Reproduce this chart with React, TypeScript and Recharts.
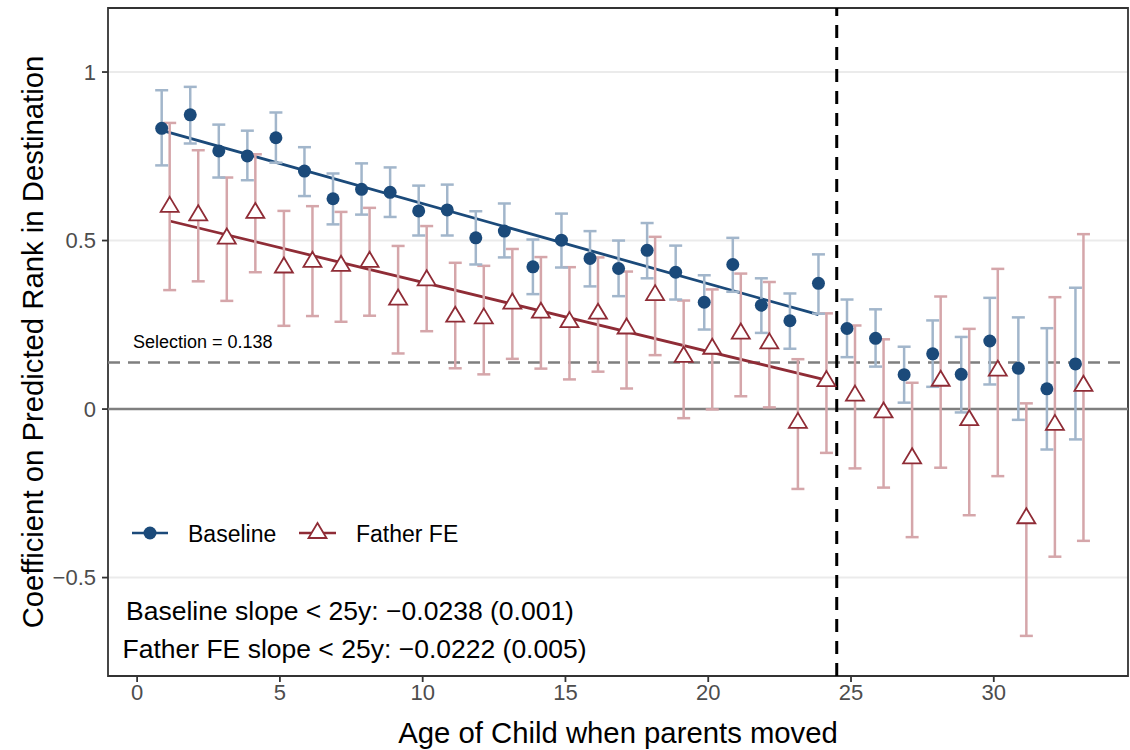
import {
  ComposedChart,
  Scatter,
  ErrorBar,
  XAxis,
  YAxis,
  CartesianGrid,
  ReferenceLine,
  ReferenceArea,
  Legend,
  Label,
} from 'recharts';

const AGES = [
  1, 2, 3, 4, 5, 6, 7, 8, 9, 10, 11, 12, 13, 14, 15, 16, 17,
  18, 19, 20, 21, 22, 23, 24, 25, 26, 27, 28, 29, 30, 31, 32, 33,
];

const BASE_EST = [
  0.833, 0.873, 0.766, 0.751, 0.805, 0.706, 0.624, 0.652, 0.643, 0.588, 0.591,
  0.508, 0.528, 0.422, 0.501, 0.447, 0.417, 0.471, 0.406, 0.317, 0.429, 0.308,
  0.262, 0.373, 0.239, 0.210, 0.102, 0.164, 0.103, 0.202, 0.121, 0.060, 0.134,
];
const BASE_LO = [
  0.723, 0.788, 0.687, 0.679, 0.731, 0.632, 0.548, 0.577, 0.570, 0.515, 0.515,
  0.429, 0.450, 0.341, 0.420, 0.364, 0.335, 0.388, 0.325, 0.236, 0.348, 0.226,
  0.179, 0.283, 0.154, 0.126, 0.019, 0.066, -0.010, 0.073, -0.032, -0.120, -0.090,
];
const BASE_HI = [
  0.946, 0.956, 0.844, 0.826, 0.880, 0.777, 0.699, 0.729, 0.717, 0.663, 0.666,
  0.587, 0.610, 0.503, 0.580, 0.528, 0.500, 0.552, 0.485, 0.397, 0.508, 0.388,
  0.343, 0.459, 0.325, 0.296, 0.185, 0.263, 0.214, 0.330, 0.272, 0.240, 0.360,
];

const FFE_EST = [
  0.600, 0.575, 0.506, 0.582, 0.420, 0.437, 0.425, 0.437, 0.325, 0.382, 0.274,
  0.269, 0.313, 0.286, 0.258, 0.283, 0.239, 0.338, 0.155, 0.179, 0.224, 0.195,
  -0.041, 0.083, 0.040, -0.010, -0.146, 0.084, -0.033, 0.114, -0.324, -0.047, 0.069,
];
const FFE_LO = [
  0.353, 0.379, 0.321, 0.406, 0.247, 0.276, 0.259, 0.277, 0.165, 0.231, 0.121,
  0.103, 0.149, 0.120, 0.088, 0.111, 0.061, 0.160, -0.027, -0.001, 0.038, 0.005,
  -0.237, -0.130, -0.176, -0.233, -0.380, -0.174, -0.315, -0.199, -0.673, -0.438, -0.391,
];
const FFE_HI = [
  0.849, 0.768, 0.687, 0.756, 0.588, 0.602, 0.585, 0.597, 0.484, 0.543, 0.434,
  0.425, 0.475, 0.451, 0.421, 0.450, 0.408, 0.511, 0.322, 0.355, 0.402, 0.377,
  0.148, 0.284, 0.248, 0.207, 0.078, 0.334, 0.238, 0.416, 0.017, 0.332, 0.519,
];

// linear fits for ages < 25
const BASE_FIT = [
  { x: 0.86, y: 0.827 },
  { x: 23.86, y: 0.28 },
];
const FFE_FIT = [
  { x: 1.14, y: 0.558 },
  { x: 24.14, y: 0.086 },
];

const SELECTION = 0.138;
const CUTOFF = 24.5;
const X_TICKS = [0, 5, 10, 15, 20, 25, 30];
const Y_TICKS = [-0.5, 0, 0.5, 1];
const DODGE = 0.14;

const BLUE = '#1b4a7a';
const BLUE_ERR = '#a2b6cb';
const RED = '#8f2c36';
const RED_ERR = '#d5a6aa';
const FONT = '"Liberation Sans", Arial, sans-serif';

const baseData = AGES.map((a, i) => ({
  x: a - DODGE,
  y: BASE_EST[i],
  err: [BASE_EST[i] - BASE_LO[i], BASE_HI[i] - BASE_EST[i]],
}));
const ffeData = AGES.map((a, i) => ({
  x: a + DODGE,
  y: FFE_EST[i],
  err: [FFE_EST[i] - FFE_LO[i], FFE_HI[i] - FFE_EST[i]],
}));

const fmtY = (v: number) => (v < 0 ? `\u2212${Math.abs(v)}` : `${v}`);

const Dot = (p: any) => <circle cx={p.cx} cy={p.cy} r={6.5} fill={BLUE} />;
const Tri = (p: any) => (
  <polygon
    points={`${p.cx},${p.cy - 10} ${p.cx + 9},${p.cy + 5} ${p.cx - 9},${p.cy + 5}`}
    fill="#fff"
    stroke={RED}
    strokeWidth={1.8}
  />
);

const LegendBox = () => (
  <svg width={360} height={40} style={{ display: 'block' }}>
    <line x1={7} y1={19} x2={43} y2={19} stroke={BLUE} strokeWidth={2.5} />
    <circle cx={25} cy={19} r={6.5} fill={BLUE} />
    <text x={63} y={27.5} fontSize={23} fontFamily={FONT} fill="#000">Baseline</text>
    <line x1={174} y1={19} x2={211} y2={19} stroke={RED} strokeWidth={2.5} />
    <polygon points="192.5,9 201.5,24 183.5,24" fill="#fff" stroke={RED} strokeWidth={1.8} />
    <text x={231} y={27.5} fontSize={23} fontFamily={FONT} fill="#000">Father FE</text>
  </svg>
);

export default function App() {
  return (
    <div style={{ position: 'absolute', left: 0, top: 0, width: 1130, height: 750, background: '#fff' }}>
      <ComposedChart
        width={1130}
        height={750}
        margin={{ top: 8, right: 2, left: 0, bottom: 0 }}
        style={{ fontFamily: FONT }}
      >
        <CartesianGrid vertical={false} stroke="#ebebeb" strokeWidth={2} />
        <XAxis
          type="number"
          dataKey="x"
          domain={[-1.02, 34.7]}
          ticks={X_TICKS}
          allowDataOverflow
          height={74}
          axisLine={false}
          tickSize={6}
          tickMargin={2}
          tickLine={{ stroke: '#333', strokeWidth: 1.8 }}
          tick={{ fontSize: 22, fill: '#4d4d4d', fontFamily: FONT }}
        >
          <Label
            value="Age of Child when parents moved"
            position="center"
            dy={20}
            style={{ fontSize: 29.3, fill: '#000', fontFamily: FONT }}
          />
        </XAxis>
        <YAxis
          type="number"
          dataKey="y"
          domain={[-0.792, 1.19]}
          ticks={Y_TICKS}
          allowDataOverflow
          width={108}
          axisLine={false}
          tickSize={6}
          tickMargin={6}
          tickFormatter={fmtY}
          tickLine={{ stroke: '#333', strokeWidth: 1.8 }}
          tick={{ fontSize: 22, fill: '#4d4d4d', fontFamily: FONT }}
        >
          <Label
            value="Coefficient on Predicted Rank in Destination"
            position="center"
            angle={-90}
            dx={-21}
            style={{ fontSize: 29.3, fill: '#000', fontFamily: FONT, textAnchor: 'middle' }}
          />
        </YAxis>

        <ReferenceLine y={0} stroke="#7f7f7f" strokeWidth={2.5} />
        <ReferenceLine y={SELECTION} stroke="#7f7f7f" strokeWidth={2.5} strokeDasharray="12 8">
          <Label
            value={`Selection = ${SELECTION}`}
            position="insideTopLeft"
            dx={20}
            dy={-32}
            style={{ fontSize: 18, fill: '#000', fontFamily: FONT }}
          />
        </ReferenceLine>
        <ReferenceLine x={CUTOFF} stroke="#000" strokeWidth={3} strokeDasharray="13 9" />

        <ReferenceLine segment={BASE_FIT} stroke={BLUE} strokeWidth={2.8} />
        <ReferenceLine segment={FFE_FIT} stroke={RED} strokeWidth={2.8} />

        <Scatter name="Father FE" data={ffeData} dataKey="y" shape={Tri} isAnimationActive={false}>
          <ErrorBar dataKey="err" direction="y" width={6.5} stroke={RED_ERR} strokeWidth={2.5} />
        </Scatter>
        <Scatter name="Baseline" data={baseData} dataKey="y" shape={Dot} isAnimationActive={false}>
          <ErrorBar dataKey="err" direction="y" width={6.5} stroke={BLUE_ERR} strokeWidth={2.5} />
        </Scatter>

        <ReferenceArea
          x1={-1.02}
          x2={34.7}
          y1={-0.792}
          y2={1.19}
          fill="none"
          stroke="#333"
          strokeWidth={1.8}
          ifOverflow="visible"
        />

        <Legend
          content={<LegendBox />}
          layout="horizontal"
          verticalAlign="middle"
          align="center"
          wrapperStyle={{ position: 'absolute', left: 125, top: 514, width: 360, height: 40 }}
        />
      </ComposedChart>

      <svg
        width={1130}
        height={750}
        style={{ position: 'absolute', left: 0, top: 0, pointerEvents: 'none' }}
      >
        <text x={350} y={620} textAnchor="middle" fontSize={26.5} fontFamily={FONT} fill="#000">
          Baseline slope &lt; 25y: {'\u2212'}0.0238 (0.001)
        </text>
        <text x={354.5} y={658} textAnchor="middle" fontSize={26.5} fontFamily={FONT} fill="#000">
          Father FE slope &lt; 25y: {'\u2212'}0.0222 (0.005)
        </text>
      </svg>
    </div>
  );
}
